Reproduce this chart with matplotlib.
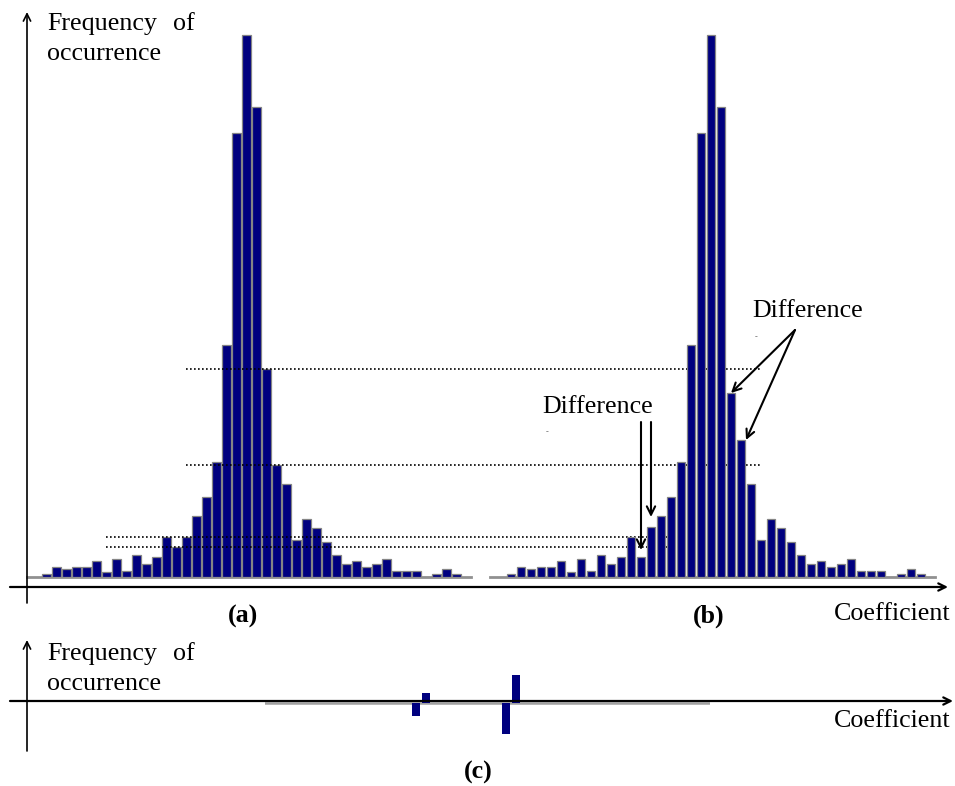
import matplotlib
matplotlib.use('Agg')
import matplotlib.pyplot as plt

W, H, DPI = 955, 786, 100

# ---------------- data ----------------
bins = list(range(42))
freq_a = [3, 10, 8, 10, 10, 16, 5, 18, 6, 22, 13, 20, 40, 30, 40, 61, 80, 115,
          232, 444, 542, 470, 208, 112, 93, 37, 58, 49, 35, 22, 13, 16, 10, 13,
          18, 6, 6, 6, 0, 3, 8, 3]
freq_b = [3, 10, 8, 10, 10, 16, 5, 18, 6, 22, 13, 20, 40, 20, 50, 61, 80, 115,
          232, 444, 542, 470, 184, 137, 93, 37, 58, 49, 35, 22, 13, 16, 10, 13,
          18, 6, 6, 6, 0, 3, 8, 3]
diff_bins = [13, 14, 22, 23]
diff_c = [-13, 10, -31, 28]

BAR = '#00007f'
EDGE = '#858585'
FONT = 'Liberation Serif'
FS = 18.7

fig = plt.figure(figsize=(W / DPI, H / DPI), dpi=DPI)


def px_axes(x0, x1, ytop, ybot):
    ax = fig.add_axes([x0 / W, 1 - ybot / H, (x1 - x0) / W, (ybot - ytop) / H])
    ax.set_axis_off()
    ax.patch.set_alpha(0)
    return ax


# ---------------- panel (a) ----------------
ax_a = px_axes(27, 471, 30, 577)
ax_a.set_xlim(-1.95, 42.45)
ax_a.set_ylim(0, 547)
ax_a.axhline(0, color='#909090', lw=2.0, zorder=1, clip_on=False)
ax_a.bar(bins, freq_a, width=0.88, color=BAR, edgecolor=EDGE, lw=0.9, zorder=2)

# dotted reference lines at heights of the (a) bars that differ
dot = dict(color='k', lw=1.2, linestyle=(0, (1, 1.4)), clip_on=False, zorder=3)
ax_a.hlines([freq_a[22], freq_a[23]], 13.95, 71.5, **dot)
ax_a.hlines([freq_a[14], freq_a[13]], 5.95, 63.35, **dot)

# ---------------- panel (b) ----------------
ax_b = px_axes(490, 935, 30, 577)
ax_b.set_xlim(-2.1, 42.4)
ax_b.set_ylim(0, 547)
ax_b.axhline(0, color='#909090', lw=2.0, zorder=1, clip_on=False)
ax_b.bar(bins, freq_b, width=0.88, color=BAR, edgecolor=EDGE, lw=0.9, zorder=2)

arr = dict(arrowstyle='->', lw=1.5, color='k', mutation_scale=15,
           shrinkA=0, shrinkB=0)
ax_b.annotate('', xy=(13, freq_b[13] + 7), xytext=(13, 155), arrowprops=arr)
ax_b.annotate('', xy=(14, freq_b[14] + 10), xytext=(14, 155), arrowprops=arr)
ax_b.annotate('', xy=(22, freq_b[22]), xytext=(28.4, 247), arrowprops=arr)
ax_b.annotate('', xy=(23.5, freq_b[23]), xytext=(28.4, 247), arrowprops=arr)

# ---------------- panel (c) ----------------
ax_c = px_axes(265, 710, 640, 760)
ax_c.set_xlim(-2.1, 42.4)
ax_c.set_ylim(-(760 - 702.5), 702.5 - 640)
ax_c.axhline(0, color='#a0a0a0', lw=1.8, zorder=1)
ax_c.bar(diff_bins, diff_c, width=0.85, color=BAR, lw=0, zorder=2)

# ---------------- overlay: axis arrows and text ----------------
ov = fig.add_axes([0, 0, 1, 1])
ov.set_xlim(0, W)
ov.set_ylim(H, 0)
ov.set_axis_off()
ov.patch.set_alpha(0)

ax_arr = dict(arrowstyle='->', lw=1.6, color='k', mutation_scale=13,
              shrinkA=0, shrinkB=0)
ov.annotate('', xy=(948, 587), xytext=(10, 587), arrowprops=ax_arr)
ov.annotate('', xy=(27, 12), xytext=(27, 603), arrowprops=dict(ax_arr, lw=1.2))
ov.annotate('', xy=(953, 701), xytext=(10, 701), arrowprops=ax_arr)
ov.annotate('', xy=(27, 640), xytext=(27, 751), arrowprops=dict(ax_arr, lw=1.2))

tx = dict(family=FONT, fontsize=FS, va='baseline')
ov.text(47, 30, 'Frequency', ha='left', **tx)
ov.text(173, 30, 'of', ha='left', **tx)
ov.text(47, 60, 'occurrence', ha='left', **tx)
ov.text(243, 623, '(a)', ha='center', fontweight='bold', **tx)
ov.text(708.5, 623, '(b)', ha='center', fontweight='bold', **tx)
ov.text(950, 620, 'Coefficient', ha='right', **tx)
ov.text(542, 413, 'Difference', ha='left', **tx)
ov.text(752, 317, 'Difference', ha='left', **tx)
ov.text(547, 434, '-', ha='center', family=FONT, fontsize=6, color='#555555')
ov.text(756, 339, '-', ha='center', family=FONT, fontsize=6, color='#555555')

ov.text(47, 660, 'Frequency', ha='left', **tx)
ov.text(173, 660, 'of', ha='left', **tx)
ov.text(47, 690, 'occurrence', ha='left', **tx)
ov.text(950, 727, 'Coefficient', ha='right', **tx)
ov.text(478, 779, '(c)', ha='center', fontweight='bold', **tx)

fig.savefig('out.png', dpi=DPI)
